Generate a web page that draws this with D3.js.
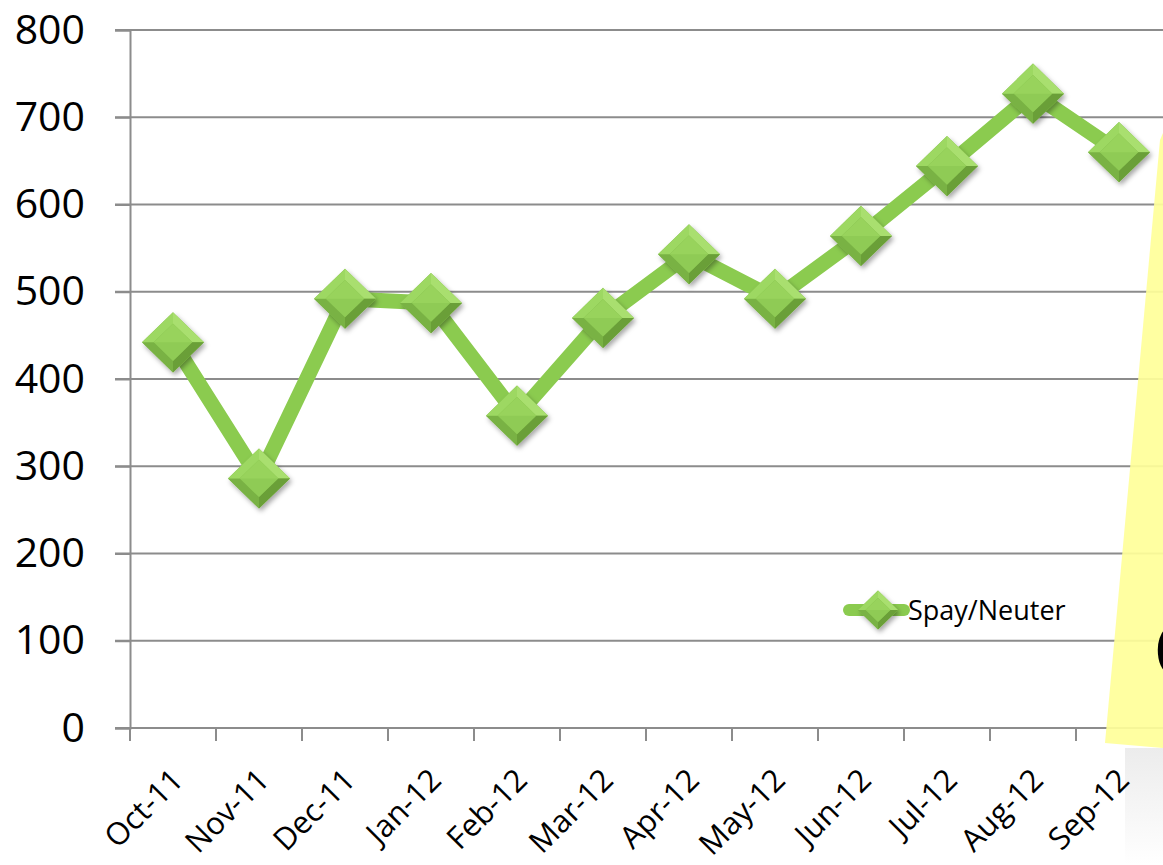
<!DOCTYPE html>
<html>
<head>
<meta charset="utf-8">
<script src="https://cdn.jsdelivr.net/npm/d3@7"></script>
<style>
  body { margin: 0; background: #fff; }
  svg { display: block; font-family: "Open Sans", "Liberation Sans", sans-serif; }
</style>
</head>
<body>
<div class="chart"></div>
<script>
const months = ['Oct-11','Nov-11','Dec-11','Jan-12','Feb-12','Mar-12','Apr-12','May-12','Jun-12','Jul-12','Aug-12','Sep-12'];
const spayNeuter = [442, 286, 492, 487, 358, 470, 543, 492, 564, 644, 727, 660];
const yTicks = [0, 100, 200, 300, 400, 500, 600, 700, 800];
const seriesName = 'Spay/Neuter';

const width = 1163, height = 865;
const margin = ({top: 30, right: 1, bottom: 137, left: 130});

const svg = d3.select('.chart').append('svg')
  .attr('width', width)
  .attr('height', height);

const defs = svg.append('defs');
const shadow = defs.append('filter').attr('id', 'shadow')
  .attr('x', '-50%').attr('y', '-50%').attr('width', '200%').attr('height', '200%');
shadow.append('feDropShadow')
  .attr('dx', 2).attr('dy', 3).attr('stdDeviation', 2.5)
  .attr('flood-color', '#000').attr('flood-opacity', 0.35);

const noteShade = defs.append('linearGradient').attr('id', 'noteShade')
  .attr('x1', 0).attr('y1', 0).attr('x2', 0).attr('y2', 1);
noteShade.append('stop').attr('offset', 0).attr('stop-color', '#ececec');
noteShade.append('stop').attr('offset', 1).attr('stop-color', '#ffffff');

// soft shadow under the sticky note (behind everything)
svg.append('rect')
  .attr('x', 1125).attr('y', 748)
  .attr('width', 38).attr('height', 117)
  .attr('fill', 'url(#noteShade)');

const xScale = d3.scaleBand()
  .domain(months)
  .range([margin.left, margin.left + 12 * 86]);

const yScale = d3.scaleLinear()
  .domain([0, 800])
  .range([height - margin.bottom, margin.top]);

// gridlines
svg.append('g')
  .selectAll('line')
  .data(yTicks)
  .join('line')
    .attr('x1', margin.left - 15)
    .attr('x2', width)
    .attr('y1', d => yScale(d))
    .attr('y2', d => yScale(d))
    .attr('stroke', '#8c8c8c')
    .attr('stroke-width', 2);

// y axis
const yAxis = d3.axisLeft(yScale)
  .tickValues(yTicks)
  .tickSize(15)
  .tickPadding(30);

svg.append('g')
  .attr('class', 'axis y-axis')
  .attr('transform', `translate(${margin.left},0)`)
  .call(yAxis)
  .call(g => g.selectAll('.domain, line').attr('stroke', '#8c8c8c').attr('stroke-width', 2))
  .call(g => g.selectAll('text')
    .attr('font-size', 41)
    .attr('fill', '#000')
    .attr('font-family', '"Open Sans", sans-serif'));

// x axis
const xAxis = d3.axisBottom(xScale).tickSize(0).tickSizeOuter(0);
const xg = svg.append('g')
  .attr('class', 'axis x-axis')
  .attr('transform', `translate(0,${yScale(0)})`)
  .call(xAxis);
xg.select('.domain').remove();
xg.append('line')
  .attr('x1', margin.left - 15).attr('x2', width)
  .attr('stroke', '#8c8c8c').attr('stroke-width', 2);
xg.selectAll('.bound')
  .data(months)
  .join('line')
    .attr('x1', d => xScale(d)).attr('x2', d => xScale(d))
    .attr('y1', 0).attr('y2', 13)
    .attr('stroke', '#8c8c8c').attr('stroke-width', 2);
xg.selectAll('.tick text')
  .attr('font-size', 31)
  .attr('font-family', '"Open Sans", sans-serif')
  .attr('fill', '#000')
  .attr('text-anchor', 'end')
  .attr('y', 0)
  .attr('dy', 0)
  .attr('transform', 'translate(12,54) rotate(-45)');

// line
const line = d3.line()
  .x((d, i) => xScale(months[i]) + xScale.bandwidth() / 2)
  .y(d => yScale(d));

svg.append('path')
  .datum(spayNeuter)
  .attr('fill', 'none')
  .attr('stroke', '#8bcb4f')
  .attr('stroke-width', 15)
  .attr('stroke-linejoin', 'round')
  .attr('d', line);

function diamond(g, r) {
  const ry = r * 0.97;
  const ir = r * 0.62, iry = ry * 0.62;
  g.append('path')
    .attr('d', `M0,${-ry} L${r},0 L0,${ry} L${-r},0 Z`)
    .attr('fill', '#7fb94a')
    .attr('filter', 'url(#shadow)');
  // bevel facets
  const facets = [
    {p: [[0, -ry], [r, 0], [ir, 0], [0, -iry]], c: '#a9df6f'},
    {p: [[r, 0], [0, ry], [0, iry], [ir, 0]], c: '#6a9f38'},
    {p: [[0, ry], [-r, 0], [-ir, 0], [0, iry]], c: '#79b244'},
    {p: [[-r, 0], [0, -ry], [0, -iry], [-ir, 0]], c: '#9dd862'}
  ];
  g.selectAll('.facet')
    .data(facets)
    .join('path')
      .attr('class', 'facet')
      .attr('d', d => 'M' + d.p.map(q => q.join(',')).join('L') + 'Z')
      .attr('fill', d => d.c);
  g.append('path')
    .attr('d', `M0,${-iry} L${ir},0 L0,${iry} L${-ir},0 Z`)
    .attr('fill', '#8fcb55');
  g.append('path')
    .attr('d', `M0,${-iry} L${ir},0 L${-ir},0 Z`)
    .attr('fill', '#98d35c');
}

svg.append('g')
  .selectAll('g')
  .data(spayNeuter)
  .join('g')
    .attr('transform', (d, i) => `translate(${xScale(months[i]) + xScale.bandwidth() / 2},${yScale(d)})`)
    .each(function() { diamond(d3.select(this), 31); });

// legend
const legend = svg.append('g').attr('transform', 'translate(845,610)');
legend.append('line')
  .attr('x1', 4).attr('x2', 59)
  .attr('stroke', '#8bcb4f')
  .attr('stroke-width', 12)
  .attr('stroke-linecap', 'round');
diamond(legend.append('g').attr('transform', 'translate(33,0)'), 20);
legend.append('text')
  .attr('x', 63)
  .attr('y', 10)
  .attr('font-size', 27)
  .attr('fill', '#000')
  .text(seriesName);

// sticky note overlapping on the right
svg.append('path')
  .attr('d', 'M1160,140 L1163,133 L1163,748 L1105,743 Z')
  .attr('fill', '#ffff99')
  .attr('fill-opacity', 0.92);
svg.append('text')
  .attr('x', 1153)
  .attr('y', 678)
  .attr('font-size', 78)
  .attr('fill', '#000')
  .text('C');
</script>
</body>
</html>
